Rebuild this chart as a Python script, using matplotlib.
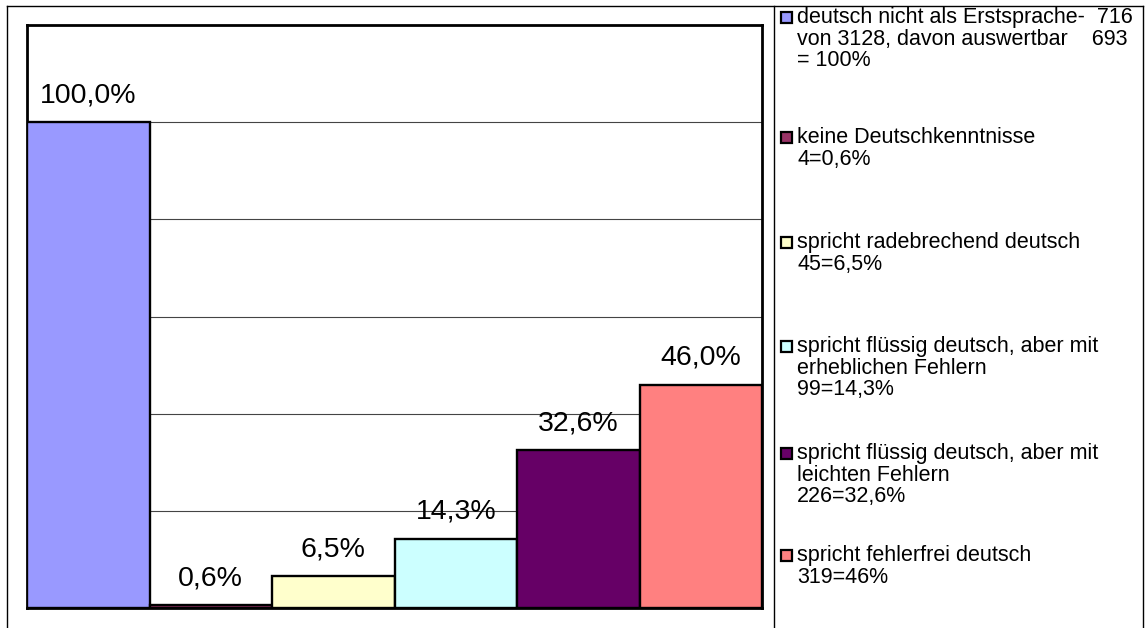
import matplotlib.pyplot as plt
from matplotlib.lines import Line2D
from matplotlib.patches import Rectangle

plt.rcParams['font.family'] = ['Liberation Sans', 'DejaVu Sans']

values = [100.0, 0.6, 6.5, 14.3, 32.6, 46.0]
value_labels = ["100,0%", "0,6%", "6,5%", "14,3%", "32,6%", "46,0%"]
colors = ["#9999FF", "#993366", "#FFFFCC", "#CCFFFF", "#660066", "#FF8080"]
legend_labels = [
    "deutsch nicht als Erstsprache-  716\nvon 3128, davon auswertbar    693\n= 100%",
    "keine Deutschkenntnisse\n4=0,6%",
    "spricht radebrechend deutsch\n45=6,5%",
    "spricht flüssig deutsch, aber mit\nerheblichen Fehlern\n99=14,3%",
    "spricht flüssig deutsch, aber mit\nleichten Fehlern\n226=32,6%",
    "spricht fehlerfrei deutsch\n319=46%",
]

fig = plt.figure(figsize=(11.45, 6.28), dpi=100)
ax = fig.add_axes([27 / 1145, 20 / 628, 735 / 1145, 583 / 628])

x = list(range(len(values)))
ax.bar(x, values, width=1.0, color=colors, edgecolor="black", linewidth=1.7, zorder=3)
for xi, v, lab in zip(x, values, value_labels):
    ax.text(xi, v + 2.8, lab, ha="center", va="bottom", fontsize=20.5, zorder=4)

ax.set_xlim(-0.5, len(values) - 0.5)
ax.set_ylim(0, 120)
ax.set_yticks([20, 40, 60, 80, 100])
ax.grid(axis="y", color="#444444", linewidth=0.8, zorder=0)
ax.tick_params(left=False, bottom=False, labelleft=False, labelbottom=False)
for s in ax.spines.values():
    s.set_linewidth(2)

# outer frame and legend divider
W, H = 1145, 628
fig.add_artist(Line2D([7 / W, 1143 / W], [1 - 6 / H, 1 - 6 / H], color="black", lw=1))
fig.add_artist(Line2D([7 / W, 7 / W], [0, 1 - 6 / H], color="black", lw=1))
fig.add_artist(Line2D([1143 / W, 1143 / W], [0, 1 - 6 / H], color="black", lw=1))
fig.add_artist(Line2D([774 / W, 774 / W], [0, 1 - 6 / H], color="black", lw=1))

# legend entries
legend_y = [17, 137, 242, 346, 453, 555]
for y, col, lab in zip(legend_y, colors, legend_labels):
    fig.add_artist(Rectangle((781 / W, 1 - (y + 6) / H), 11 / W, 11 / H,
                             facecolor=col, edgecolor="black", lw=1.6))
    fig.text(797 / W, 1 - (y - 10) / H, lab, ha="left", va="top",
             fontsize=15.5, linespacing=1.04)

fig.savefig("out.png", dpi=100)
